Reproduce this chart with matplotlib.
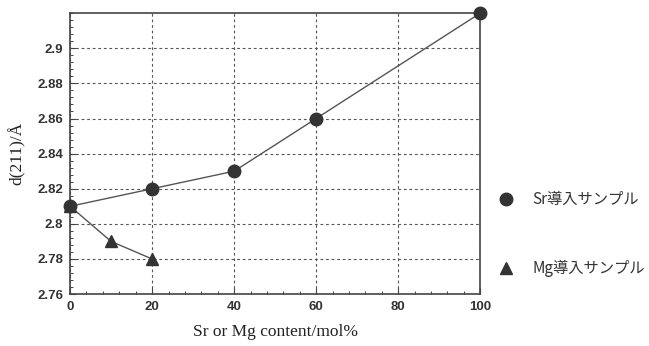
import matplotlib
matplotlib.use("Agg")
import matplotlib.pyplot as plt
from matplotlib.ticker import MultipleLocator, FixedLocator

sr_x = [0, 20, 40, 60, 100]
sr_y = [2.81, 2.82, 2.83, 2.86, 2.92]
mg_x = [0, 10, 20]
mg_y = [2.81, 2.79, 2.78]
sr_label = "Sr導入サンプル"
mg_label = "Mg導入サンプル"
y_ticks = [2.76, 2.78, 2.80, 2.82, 2.84, 2.86, 2.88, 2.90]
y_tick_labels = ["2.76", "2.78", "2.8", "2.82", "2.84", "2.86", "2.88", "2.9"]
x_ticks = [0, 20, 40, 60, 80, 100]

fig = plt.figure(figsize=(6.49, 3.46), dpi=100)
ax = fig.add_axes([0.108, 0.150, 0.632, 0.812])

mk_color = "#333333"
line_color = "#555555"
l1, = ax.plot(sr_x, sr_y, color=line_color, lw=1.0, marker="o", ms=9,
              mfc=mk_color, mec=mk_color, clip_on=False, zorder=3)
l2, = ax.plot(mg_x, mg_y, color=line_color, lw=1.0, marker="^", ms=9,
              mfc=mk_color, mec=mk_color, clip_on=False, zorder=3)

ax.set_xlim(0, 100)
ax.set_ylim(2.76, 2.92)
ax.xaxis.set_major_locator(FixedLocator(x_ticks))
ax.xaxis.set_minor_locator(MultipleLocator(4))
ax.yaxis.set_major_locator(FixedLocator(y_ticks))
ax.set_yticklabels(y_tick_labels)
ax.yaxis.set_minor_locator(MultipleLocator(0.004))
ax.tick_params(which="both", direction="in", top=False, right=False, color="#444444")
ax.tick_params(which="major", length=4, width=0.8, labelsize=9.5, pad=5)
ax.tick_params(which="minor", length=2.5, width=0.7)
for lab in ax.get_xticklabels() + ax.get_yticklabels():
    lab.set_fontweight("bold")
    lab.set_family("Liberation Sans")
    lab.set_color("#333333")

ax.grid(True, which="major", linestyle=(0, (2.5, 2.5)), color="#555555", lw=0.8)
for s in ax.spines.values():
    s.set_color("#444444")
    s.set_linewidth(1.2)

ax.set_xlabel("Sr or Mg content/mol%", family="Liberation Serif", fontsize=12.5,
              color="#222222", labelpad=8)
ax.set_ylabel("d(211)/Å", family="Liberation Serif", fontsize=12.5,
              color="#222222", labelpad=8)

leg_sr = ax.plot([], [], ls="none", marker="o", ms=9, mfc=mk_color, mec=mk_color)[0]
leg_mg = ax.plot([], [], ls="none", marker="^", ms=9, mfc=mk_color, mec=mk_color)[0]
fig.legend([leg_sr, leg_mg], [sr_label, mg_label], loc="upper left",
           bbox_to_anchor=(0.745, 0.488), frameon=False, labelspacing=3.4,
           handlelength=1.2, handletextpad=1.1,
           prop={"family": ["Noto Sans CJK JP", "DejaVu Sans"], "size": 11},
           labelcolor="#333333")

fig.savefig("out.png", dpi=100)
